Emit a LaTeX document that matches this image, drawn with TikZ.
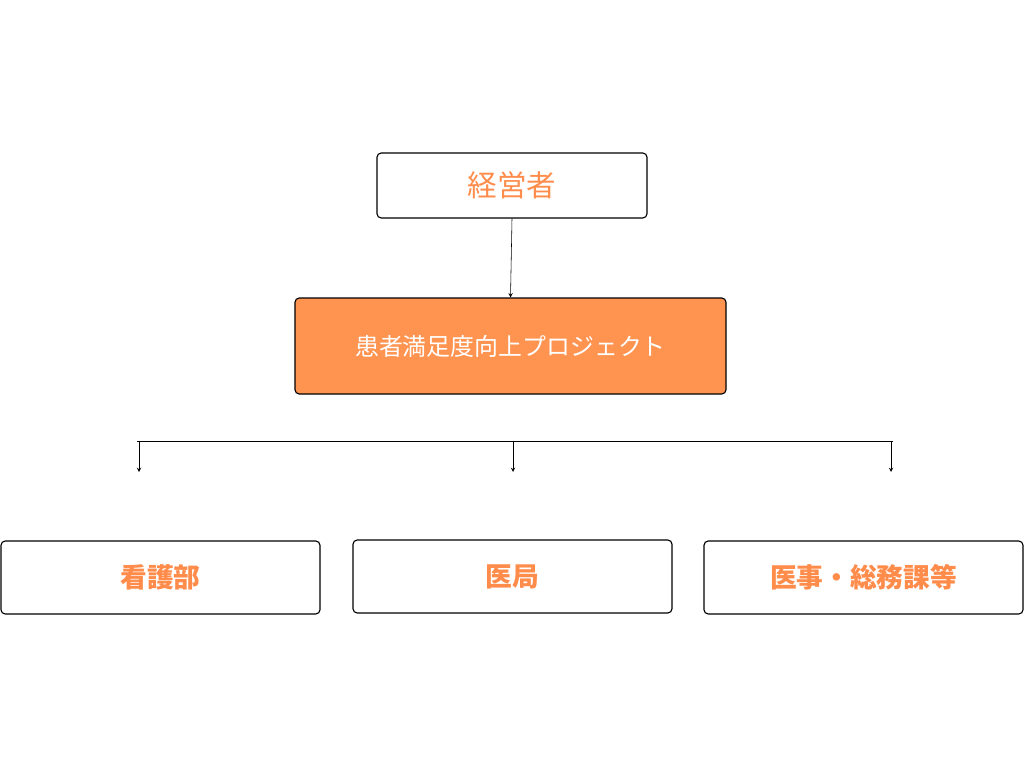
\documentclass[tikz,border=0pt]{standalone}
\usepackage{fontspec}
\newfontfamily\jp{Noto Sans CJK JP}
\usetikzlibrary{positioning}
\definecolor{orgfill}{HTML}{FF9350}
\definecolor{orgtext}{HTML}{FF8C4A}
\tikzset{
  box/.style={draw=black, thick, rounded corners=3pt, fill=white, inner sep=0pt},
  dept/.style={box, minimum width=319*0.025cm, minimum height=73*0.025cm,
    text=orgtext, font=\jp\bfseries\fontsize{19}{22}\selectfont},
  conn/.style={-stealth, thin}
}
\begin{document}
\begin{tikzpicture}[x=0.025cm, y=-0.025cm]
  \useasboundingbox (0,0) rectangle (1024,768);
  \node[box, minimum width=270*0.025cm, minimum height=65*0.025cm,
    text=orgtext, font=\jp\fontsize{21}{24}\selectfont] (boss) at (512,185.5) {経営者};
  \node[box, fill=orgfill, minimum width=431*0.025cm, minimum height=96*0.025cm,
    text=white, font=\jp\fontsize{17}{20}\selectfont] (proj) at (510.5,346) {患者満足度向上プロジェクト};
  \node[dept] (nurse) at (160.5,577.5) {看護部};
  \node[dept] (med) at (512.5,576.5) {医局};
  \node[dept] (admin) at (863.5,577.5) {医事・総務課等};

  \draw[conn] (boss.south) -- (proj.north);

  % branch line
  \coordinate (bl) at (137,441);
  \coordinate (br) at (893,441);
  \draw[thin] (bl) -- (br);
  \foreach \x/\n in {139/a, 513/b, 891/c} {
    \coordinate (t\n) at (\x,441);
    \coordinate (e\n) at (\x,472);
    \draw[conn] (t\n) -- (e\n);
  }
\end{tikzpicture}
\end{document}
